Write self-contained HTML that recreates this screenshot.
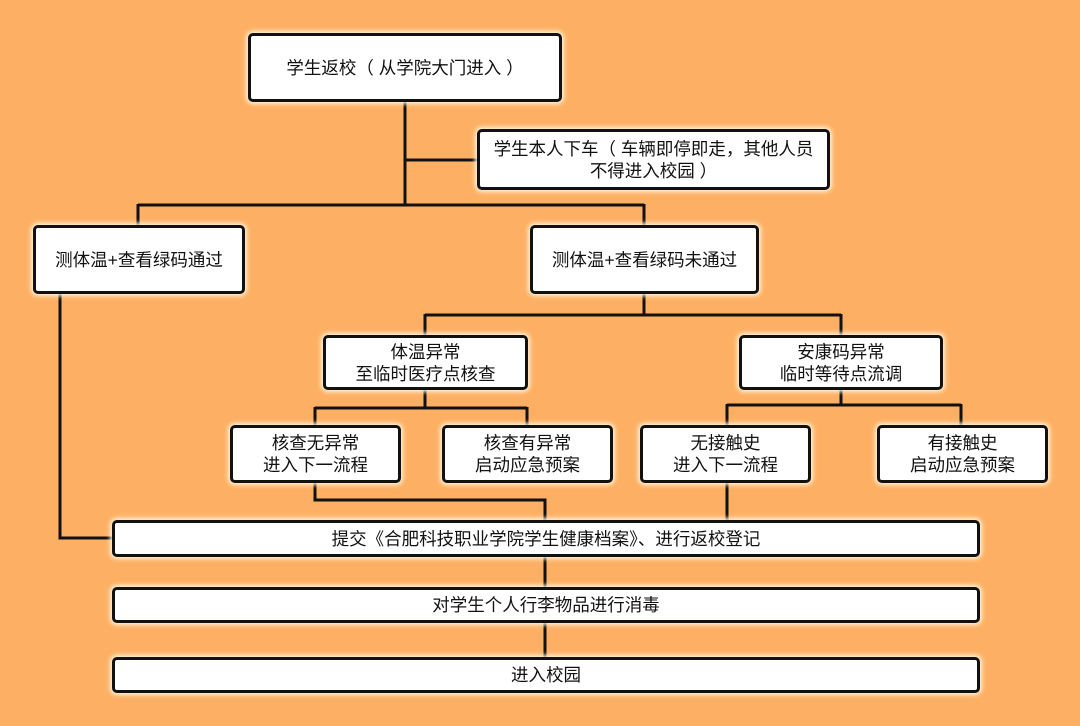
<!DOCTYPE html>
<html><head><meta charset="utf-8"><style>
body{margin:0;width:1080px;height:726px;background:#FDB064;position:relative;overflow:hidden;font-family:"Liberation Sans","Noto Sans CJK SC",sans-serif;}
svg{position:absolute;left:0;top:0}
.b{position:absolute;box-sizing:border-box;background:#fff;border:3px solid #111;border-radius:5px;box-shadow:0 0 4px 2px #fff3d6;display:flex;align-items:center;justify-content:center;text-align:center;font-size:17.5px;line-height:22px;color:#111;white-space:nowrap}
</style></head><body>
<svg width="1080" height="726"><g stroke="#111" stroke-width="3" fill="none">
<path d="M405 100V205M405 160H478M138 205H644M138 204V226M644 204V226"/>
<path d="M644 292V315M425 315H841M425 314V336M841 314V336"/>
<path d="M425 388V408M315 408H527M315 407V426M527 407V426"/>
<path d="M841 388V405M727 405H961M727 404V426M961 404V426"/>
<path d="M315 481V500H545V521M727 481V521"/>
<path d="M60 292V538H113"/>
<path d="M545 555V588M545 621V658"/>
</g></svg>
<div class="b" style="left:248px;top:33px;width:314px;height:69px">学生返校（ 从学院大门进入 ）</div>
<div class="b" style="left:477px;top:129px;width:353px;height:61px">学生本人下车（ 车辆即停即走，其他人员<br>不得进入校园 ）</div>
<div class="b" style="left:33px;top:225px;width:212px;height:69px">测体温+查看绿码通过</div>
<div class="b" style="left:530px;top:225px;width:229px;height:69px">测体温+查看绿码未通过</div>
<div class="b" style="left:323px;top:335px;width:205px;height:55px">体温异常<br>至临时医疗点核查</div>
<div class="b" style="left:739px;top:335px;width:204px;height:55px">安康码异常<br>临时等待点流调</div>
<div class="b" style="left:230px;top:425px;width:171px;height:58px">核查无异常<br>进入下一流程</div>
<div class="b" style="left:442px;top:425px;width:171px;height:58px">核查有异常<br>启动应急预案</div>
<div class="b" style="left:640px;top:425px;width:171px;height:58px">无接触史<br>进入下一流程</div>
<div class="b" style="left:877px;top:425px;width:171px;height:58px">有接触史<br>启动应急预案</div>
<div class="b" style="left:112px;top:520px;width:868px;height:37px">提交《合肥科技职业学院学生健康档案》、进行返校登记</div>
<div class="b" style="left:112px;top:587px;width:868px;height:36px">对学生个人行李物品进行消毒</div>
<div class="b" style="left:112px;top:657px;width:868px;height:36px">进入校园</div>
</body></html>
